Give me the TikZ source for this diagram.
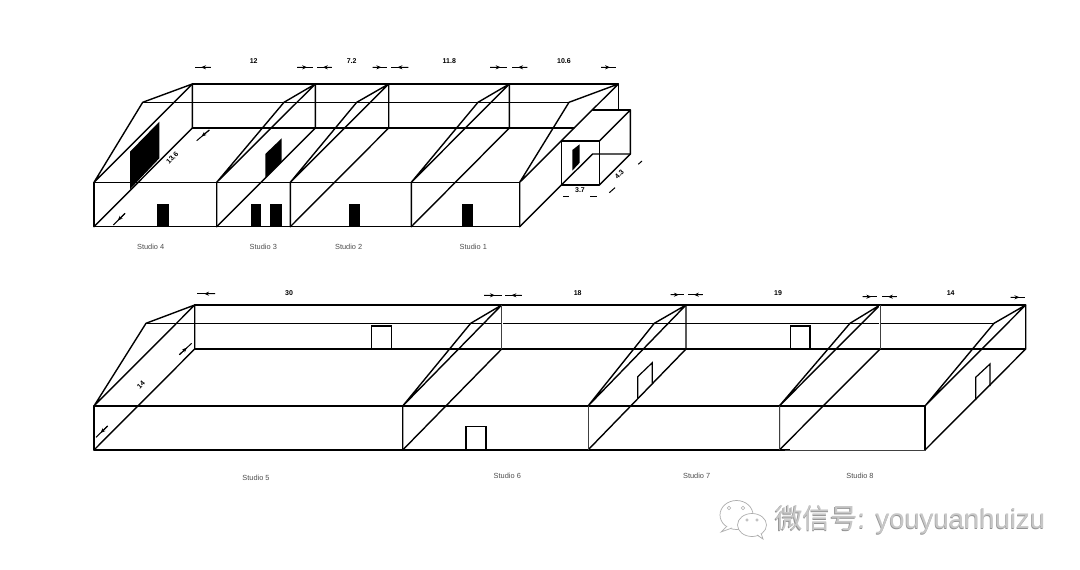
\documentclass[tikz,border=0pt]{standalone}
\usepackage{fontspec}
\setmainfont{Liberation Sans}
\newfontfamily\cjkwm{Noto Sans CJK SC}
\usetikzlibrary{arrows.meta,calc}
\definecolor{wmgray}{gray}{0.78}
\definecolor{wmdark}{gray}{0.58}
\definecolor{wmline}{gray}{0.68}
\definecolor{labgray}{gray}{0.3}
\tikzset{
  wall/.style={draw=black,line width=1.4pt,line cap=round,line join=round},
  lightwall/.style={draw=black!75,line width=0.8pt},
  wipe/.style={draw=white,line width=1.8pt},
  doorsolid/.style={fill=black,draw=none},
  dooropen/.style={draw=black,line width=1.2pt},
  dimlabel/.style={font=\bfseries\fontsize{7}{7}\selectfont,inner sep=0pt},
  studiolabel/.style={font=\fontsize{7.4}{7.4}\selectfont,text=labgray,inner sep=0pt},
  dimshaft/.style={draw=black,line width=1pt},
  dimhead/.style={draw=black,line width=1pt,-{Stealth[length=5pt,width=4pt]}},
  wmtext/.style={inner sep=0pt,anchor=west,font=\fontsize{27.5}{27.5}\selectfont},
  bubble/.style={draw=wmline,line width=0.7pt,fill=white}
}
% one dimension arrow: from #1 to #2, head partway along
\newcommand{\dimarrow}[2]{%
  \draw[dimshaft] (#1) -- (#2);
  \draw[dimhead] (#1) -- ($(#1)!0.62!(#2)$);}
% frame lines of one bay: front x, mid x, back x, then y levels of the building
\newcommand{\baylines}[7]{%
  \coordinate (ft) at (#1,#6);
  \coordinate (fb) at (#1,#7);
  \coordinate (mt) at (#2,#5);
  \coordinate (bt) at (#3,#4);
  \draw[wall] (fb) -- (ft) -- (mt) -- (bt) -- (ft);}
\begin{document}
\begin{tikzpicture}[x=1pt,y=-1pt]
\useasboundingbox (0,0) rectangle (1080,570);

%% ---------- upper building ----------
\coordinate (aft) at (561.3,141);
\coordinate (afr) at (599.3,141);
\coordinate (afbr) at (599.3,185);
\coordinate (afbl) at (561.3,185);
\coordinate (abl) at (592.7,110);
\coordinate (abr) at (630.3,110);
\coordinate (abbr) at (630.3,154);
\coordinate (abbl) at (592.7,154);
\draw[wall] (aft) -- (afr) -- (afbr) -- (afbl) -- cycle;
\draw[wall] (afr) -- (abr) -- (abbr) -- (afbr);
\draw[wall] (abl) -- (abr);
\draw[wall] (afbl) -- (abbl) -- (abbr);

% outer box
\coordinate (uFL) at (94,226.7);
\coordinate (uFR) at (519.7,226.7);
\coordinate (uTL) at (94,182.3);
\coordinate (uTR) at (519.7,182.3);
\coordinate (uBL) at (192.3,84);
\coordinate (uBR) at (618.3,84);
\coordinate (uML) at (142.7,102.3);
\coordinate (uMR) at (569,102.3);
\draw[wall] (uFL) -- (uFR) -- (uTR) -- (uTL) -- cycle;
\draw[wall] (uBL) -- (uBR) -- (618.3,110);
\draw[wall] (uML) -- (uMR);
\draw[wall] (192.3,128) -- (574,128);
\draw[wall] (uFR) -- (afbl);
% bays
\foreach \f/\m/\b in {94/142.7/192.3,216.7/284/315.3,290.3/356.7/388.7,411.3/478/509.3,519.7/569/618.3}{
  \baylines{\f}{\m}{\b}{84}{102.3}{182.3}{226.7}
}
\foreach \f/\b in {94/192.3,216.7/315.3,290.3/388.7,411.3/509.3}{
  \draw[wall] (\f,226.7) -- (\b,128) -- (\b,84);
}
% doors
\fill[doorsolid] (130,151.7) -- (159.3,121.7) -- (159.3,158.3) -- (130,189.3) -- cycle;
\fill[doorsolid] (265.3,154) -- (281.7,138.3) -- (281.7,161.7) -- (265.3,177.7) -- cycle;
\fill[doorsolid] (572.3,150) -- (579.7,144.3) -- (579.7,162.7) -- (572.3,170.7) -- cycle;
\fill[doorsolid] (157,204) rectangle (168.7,226.7);
\fill[doorsolid] (250.7,204) rectangle (261.3,226.7);
\fill[doorsolid] (270,204) rectangle (281.7,226.7);
\fill[doorsolid] (348.7,204) rectangle (360.3,226.7);
\fill[doorsolid] (462.3,204) rectangle (473.3,226.7);

% dimensions
\foreach \a/\b in {210.7/195,297.3/313.3,331.7/317.3,372.7/386.7,408.3/390.7,490/507.3,527.3/512.3,601/615.7}{
  \dimarrow{\a,67.3}{\b,67.3}
}
\dimarrow{209.3,130}{196.7,140.7}
\dimarrow{125,213.3}{113.3,225}
\draw[dimshaft] (563.3,196) -- (569.3,196);
\draw[dimshaft] (590,196) -- (596.7,196);
\draw[dimshaft] (609.3,192.7) -- (615,187.7);
\draw[dimshaft] (638.3,164.3) -- (642,161);
\node[dimlabel] (u12) at (253.7,61.5) {12};
\node[dimlabel] (u72) at (351.7,61.5) {7.2};
\node[dimlabel] (u118) at (449.3,61.5) {11.8};
\node[dimlabel] (u106) at (564,61.5) {10.6};
\node[dimlabel,rotate=45] (u136) at (172.3,158) {13.6};
\node[dimlabel,rotate=45] (u43) at (619.3,174) {4.3};
\node[dimlabel] (u37) at (580,190.5) {3.7};
\node[studiolabel] (s4) at (150.7,246.7) {Studio 4};
\node[studiolabel] (s3) at (263.3,246.7) {Studio 3};
\node[studiolabel] (s2) at (348.7,246.7) {Studio 2};
\node[studiolabel] (s1) at (473.3,246.7) {Studio 1};

%% ---------- lower building ----------
\draw[wall] (94,450) -- (925,450) -- (925,406) -- (94,406) -- cycle;
\draw[wall] (194.7,305) -- (1025.7,305) -- (1025.7,349) -- (194.7,349) -- cycle;
\draw[wall] (146,323.3) -- (994,323.3);
\foreach \f/\m/\b in {94/146/194.7,402.7/470.7/501.7,588/654.3/686,779.3/850/880,925/994/1025.7}{
  \baylines{\f}{\m}{\b}{305}{323.3}{406}{450}
  \draw[wall] (\f,450) -- (\b,349) -- (\b,305);
}
% lighter strokes of the scan
\draw[wipe] (588,407) -- (588,449);
\draw[lightwall] (588,406) -- (588,450);
\draw[wipe] (779.3,407) -- (779.3,449);
\draw[lightwall] (779.3,406) -- (779.3,450);
\draw[wipe] (790,450) -- (924,450);
\draw[lightwall] (785,450) -- (925,450);
\draw[wipe] (880,306) -- (880,348);
\draw[lightwall] (880,305) -- (880,349);
\draw[wipe] (501.7,306) -- (501.7,348);
\draw[lightwall] (501.7,305) -- (501.7,349);
% doors
\draw[dooropen] (371.7,349) -- (371.7,326) -- (391.7,326) -- (391.7,349);
\draw[dooropen] (790.7,349) -- (790.7,326) -- (810,326) -- (810,349);
\draw[dooropen] (466,450) -- (466,426.7) -- (486,426.7) -- (486,450);
\draw[dooropen] (637.7,398) -- (637.7,376.7) -- (652.3,362.7) -- (652.3,383);
\draw[dooropen] (975.7,400) -- (975.7,377.3) -- (990,364) -- (990,386);

% dimensions
\dimarrow{215,293.7}{197.3,293.7}
\dimarrow{484,295.3}{501.7,295.3}
\dimarrow{521.7,295.3}{505,295.3}
\dimarrow{670.7,294.7}{684,294.7}
\dimarrow{702.7,294.7}{688.3,294.7}
\dimarrow{862.7,296.7}{876.7,296.7}
\dimarrow{896.7,296.7}{882.3,296.7}
\dimarrow{1010.7,297.3}{1025,297.3}
\dimarrow{179.3,354.7}{191.7,343.3}
\dimarrow{107.7,426}{96,437.3}
\node[dimlabel] (l30) at (289,292.7) {30};
\node[dimlabel] (l18) at (577.7,293.3) {18};
\node[dimlabel] (l19) at (778,293.3) {19};
\node[dimlabel] (l14) at (950.7,293.3) {14};
\node[dimlabel,rotate=45] (l14b) at (141,385) {14};
\node[studiolabel] (s5) at (256,478.3) {Studio 5};
\node[studiolabel] (s6) at (507.3,476.3) {Studio 6};
\node[studiolabel] (s7) at (696.7,476.3) {Studio 7};
\node[studiolabel] (s8) at (860,476.3) {Studio 8};

%% ---------- watermark ----------
\draw[bubble] (736.5,515) ellipse (16.5 and 14.5);
\draw[bubble] (727,526) -- (721,532) -- (732,528);
\draw[bubble] (752,525) ellipse (14.5 and 11.5);
\fill[white] (757,534) -- (763,539) -- (761,532) -- cycle;
\draw[wmline,line width=0.7pt] (757,535) -- (763,539) -- (761,533);
\foreach \p in {729,743}{\draw[wmline,line width=0.5pt] (\p,508) circle (1.8);}
\foreach \p in {747,757}{\draw[wmline,line width=0.5pt] (\p,520) circle (1.3);}
\node[wmtext,text=wmdark] (wmshadow) at (774.5,520.5) {{\cjkwm 微信号}: youyuanhuizu};
\node[wmtext,text=wmgray] (wm) at (775,520) {{\cjkwm 微信号}: youyuanhuizu};
\end{tikzpicture}
\end{document}
